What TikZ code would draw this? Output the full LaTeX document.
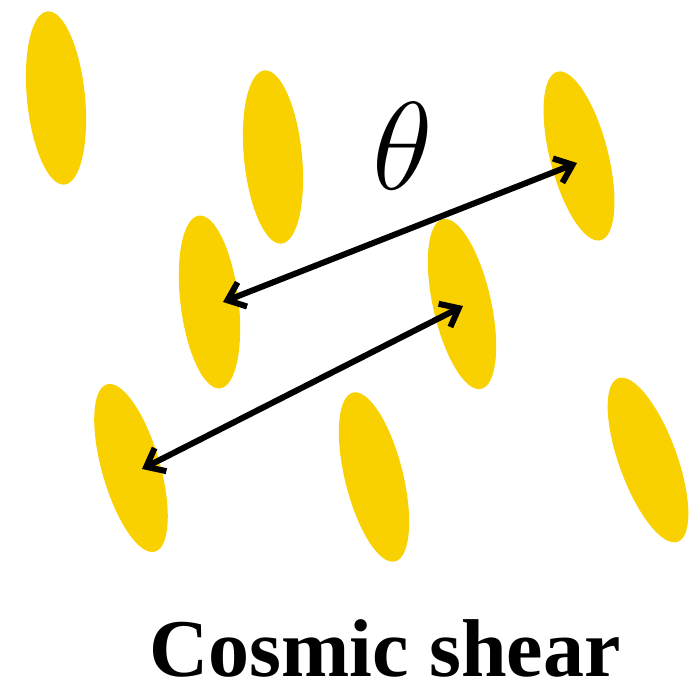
\RequirePackage{fix-cm}
\documentclass[tikz,border=0pt]{standalone}
\usepackage{fontspec}
\newfontfamily\titlefont{Liberation Serif}
\usetikzlibrary{shapes.geometric,arrows.meta}
\definecolor{galaxy}{RGB}{249,209,0}
\tikzset{
  gal/.style={ellipse, fill=galaxy, draw=none, inner sep=0pt, minimum width=58pt, minimum height=174pt},
  link/.style={draw=black, line width=6pt, {Straight Barb[length=16pt,width=26pt]}-{Straight Barb[length=16pt,width=26pt]}}
}
\begin{document}
\begin{tikzpicture}[x=1pt,y=1pt]
\useasboundingbox (0,0) rectangle (698,695);
\node[gal, rotate=5.6] (e1) at (56,597) {};
\node[gal, rotate=5.6] (e2) at (273,538) {};
\node[gal, rotate=14.4] (e3) at (579,539) {};
\node[gal, rotate=7] (e4) at (209.5,393) {};
\node[gal, rotate=12.7] (e5) at (462,391) {};
\node[gal, rotate=16] (e6) at (131,227) {};
\node[gal, rotate=14] (e7) at (374,218) {};
\node[gal, rotate=20] (e8) at (648,235) {};
\draw[link] ([shift={(13.5,0)}]e4.center) -- ([shift={(-2,-7)}]e3.center);
\draw[link] ([shift={(11,-1)}]e6.center) -- ([shift={(1,-2)}]e5.center);
\node[inner sep=0pt] (theta) at (403,549) {\fontsize{125}{125}\selectfont$\theta$};
\node[inner sep=0pt, anchor=base] (title) at (385,18) {\titlefont\fontsize{82}{82}\bfseries\selectfont Cosmic shear};
\end{tikzpicture}
\end{document}
